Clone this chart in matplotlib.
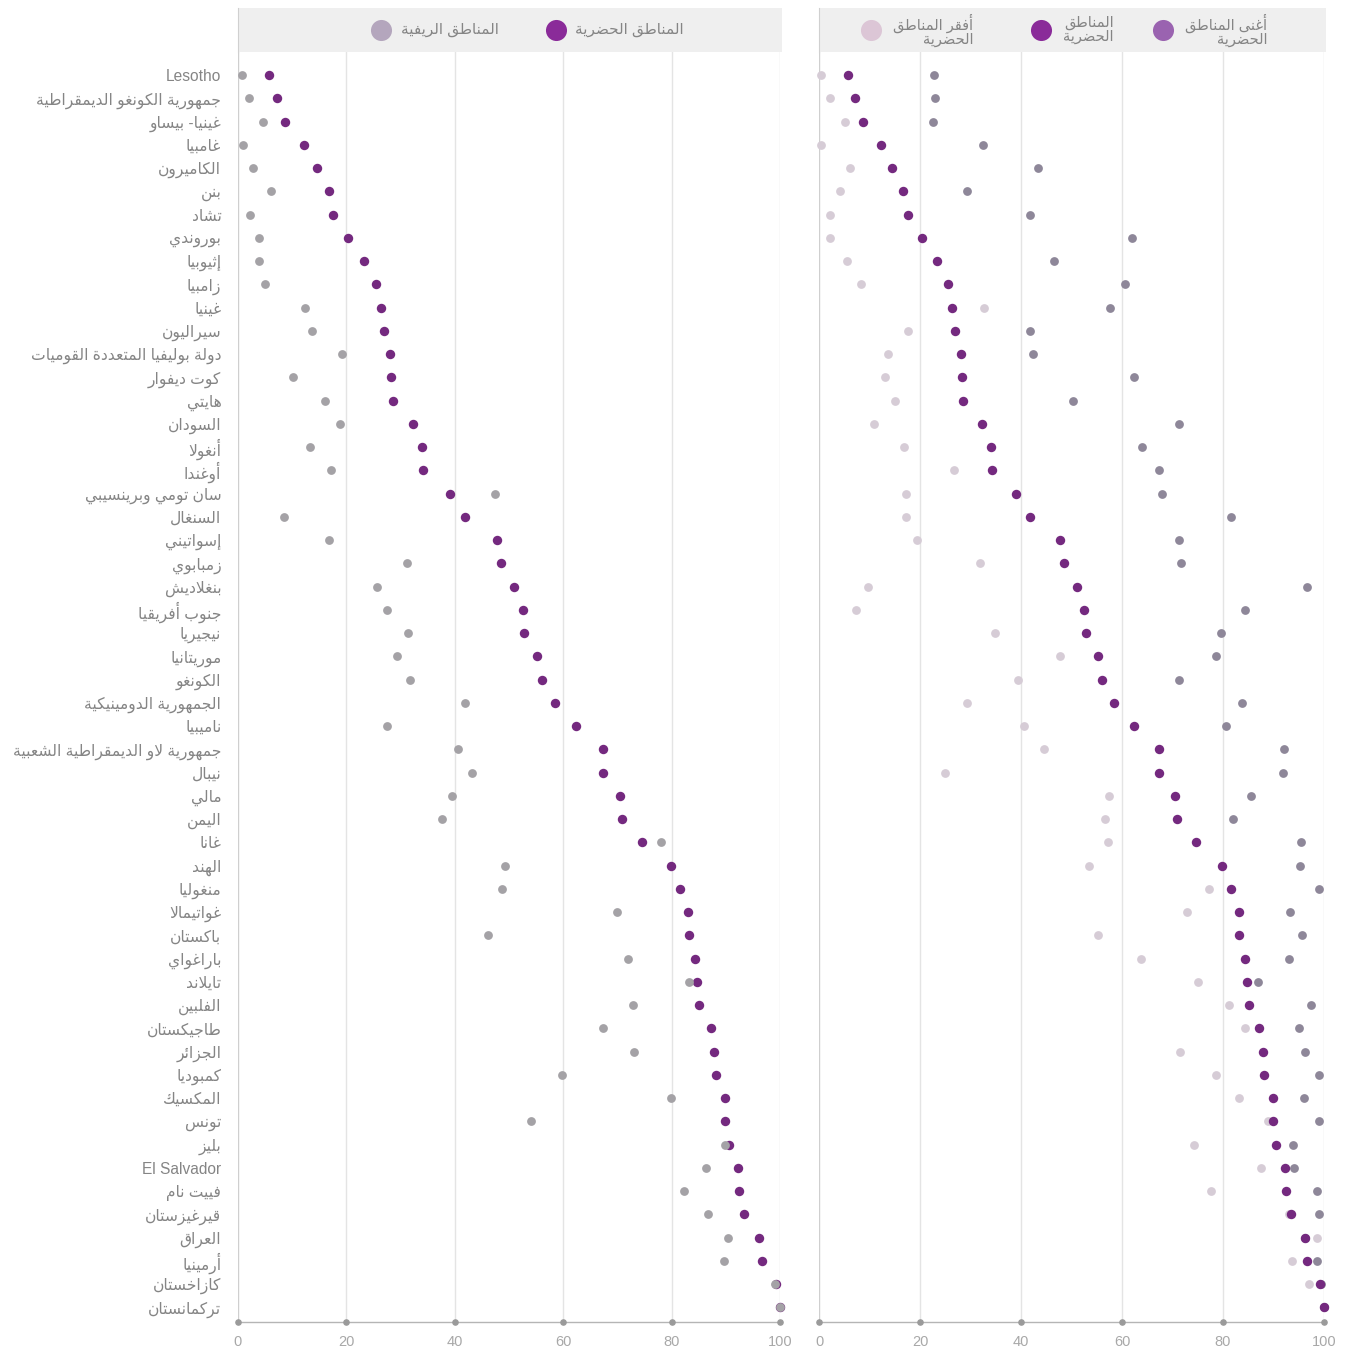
import numpy as np
import matplotlib
matplotlib.use("Agg")
import matplotlib.pyplot as plt
from matplotlib.transforms import blended_transform_factory

# ---------------- data ----------------
countries = [
    "Lesotho", "جمهورية الكونغو الديمقراطية", "غينيا- بيساو", "غامبيا", "الكاميرون",
    "بنن", "تشاد", "بوروندي", "إثيوبيا", "زامبيا", "غينيا", "سيراليون",
    "دولة بوليفيا المتعددة القوميات", "كوت ديفوار", "هايتي", "السودان", "أنغولا",
    "أوغندا", "سان تومي وبرينسيبي", "السنغال", "إسواتيني", "زمبابوي", "بنغلاديش",
    "جنوب أفريقيا", "نيجيريا", "موريتانيا", "الكونغو", "الجمهورية الدومينيكية",
    "ناميبيا", "جمهورية لاو الديمقراطية الشعبية", "نيبال", "مالي", "اليمن", "غانا",
    "الهند", "منغوليا", "غواتيمالا", "باكستان", "باراغواي", "تايلاند", "الفلبين",
    "طاجيكستان", "الجزائر", "كمبوديا", "المكسيك", "تونس", "بليز", "El Salvador",
    "فييت نام", "قيرغيزستان", "العراق", "أرمينيا", "كازاخستان", "تركمانستان",
]
urban = [5.8, 7.2, 8.7, 12.2, 14.5, 16.7, 17.6, 20.3, 23.3, 25.5, 26.3, 27.0,
         28.1, 28.3, 28.6, 32.2, 34.0, 34.2, 39.1, 41.8, 47.7, 48.6, 51.0, 52.5,
         52.8, 55.2, 56.1, 58.4, 62.4, 67.4, 67.4, 70.4, 70.9, 74.6, 79.8, 81.5,
         83.1, 83.2, 84.3, 84.7, 85.1, 87.2, 87.9, 88.2, 89.9, 89.9, 90.5, 92.3,
         92.5, 93.4, 96.2, 96.6, 99.3, 100.0]
rural = [0.7, 2.1, 4.6, 1.0, 2.7, 6.0, 2.2, 3.9, 3.9, 5.0, 12.4, 13.7,
         19.2, 10.1, 16.0, 18.8, 13.2, 17.1, 47.4, 8.5, 16.8, 31.2, 25.7, 27.4,
         31.3, 29.3, 31.8, 41.9, 27.4, 40.6, 43.1, 39.4, 37.6, 78.1, 49.3, 48.8,
         70.0, 46.1, 71.9, 83.2, 72.8, 67.3, 73.1, 59.7, 79.8, 54.0, 89.8, 86.3,
         82.3, 86.8, 90.4, 89.7, 99.0, 100.0]
poorest_urban = [0.3, 2.1, 5.2, 0.3, 6.1, 4.2, 2.2, 2.1, 5.5, 8.4, 32.6, 17.7,
                 13.6, 13.1, 15.1, 10.9, 16.9, 26.8, 17.3, 17.3, 19.4, 31.8, 9.7, 7.3,
                 34.9, 47.7, 39.5, 29.3, 40.5, 44.5, 25.0, 57.5, 56.7, 57.2, 53.5, 77.3,
                 72.8, 55.3, 63.7, 75.1, 81.2, 84.4, 71.5, 78.6, 83.1, 89.0, 74.2, 87.6,
                 77.7, 93.0, 98.7, 93.7, 97.0, 100.0]
richest_urban = [22.7, 22.9, 22.5, 32.4, 43.4, 29.3, 41.8, 62.0, 46.5, 60.6, 57.7, 41.8,
                 42.4, 62.4, 50.3, 71.2, 63.9, 67.4, 68.0, 81.5, 71.3, 71.7, 96.7, 84.3,
                 79.6, 78.7, 71.3, 83.7, 80.6, 92.0, 91.9, 85.5, 82.0, 95.5, 95.3, 99.1,
                 93.2, 95.6, 93.1, 86.9, 97.5, 95.1, 96.2, 99.0, 96.0, 99.0, 93.9, 94.0,
                 98.6, 99.0, 96.3, 98.6, 99.5, 100.0]
x_ticks = [0, 20, 40, 60, 80, 100]
left_legend = ["المناطق الريفية", "المناطق الحضرية"]
right_legend = [("أفقر المناطق", "الحضرية"), ("المناطق", "الحضرية"), ("أغنى المناطق", "الحضرية")]

# ---------------- Arabic shaping (presentation forms + visual order) ----------------
DUAL = {'ئ': 0xFE89, 'ب': 0xFE8F, 'ت': 0xFE95, 'ث': 0xFE99, 'ج': 0xFE9D, 'ح': 0xFEA1,
        'خ': 0xFEA5, 'س': 0xFEB1, 'ش': 0xFEB5, 'ص': 0xFEB9, 'ض': 0xFEBD, 'ط': 0xFEC1,
        'ظ': 0xFEC5, 'ع': 0xFEC9, 'غ': 0xFECD, 'ف': 0xFED1, 'ق': 0xFED5, 'ك': 0xFED9,
        'ل': 0xFEDD, 'م': 0xFEE1, 'ن': 0xFEE5, 'ه': 0xFEE9, 'ي': 0xFEF1}
RIGHT = {'آ': 0xFE81, 'أ': 0xFE83, 'ؤ': 0xFE85, 'إ': 0xFE87, 'ا': 0xFE8D, 'ة': 0xFE93,
         'د': 0xFEA9, 'ذ': 0xFEAB, 'ر': 0xFEAD, 'ز': 0xFEAF, 'و': 0xFEED, 'ى': 0xFEEF}
LAMALEF = {'آ': 0xFEF5, 'أ': 0xFEF7, 'إ': 0xFEF9, 'ا': 0xFEFB}


def shape(s):
    if not any('\u0600' <= c <= '\u06FF' for c in s):
        return s
    items = []
    i = 0
    while i < len(s):
        c = s[i]
        if c == 'ل' and i + 1 < len(s) and s[i + 1] in LAMALEF:
            items.append(('LA', s[i + 1]))
            i += 2
        else:
            items.append(('C', c))
            i += 1

    def jt(it):
        k, c = it
        if k == 'LA':
            return 'R'
        if c in DUAL:
            return 'D'
        if c in RIGHT:
            return 'R'
        return 'U'

    out = []
    n = len(items)
    for k, it in enumerate(items):
        t = jt(it)
        prev = jt(items[k - 1]) if k > 0 else 'U'
        nxt = jt(items[k + 1]) if k < n - 1 else 'U'
        jp = t != 'U' and prev == 'D'
        jn = t == 'D' and nxt in ('D', 'R')
        kind, c = it
        if kind == 'LA':
            out.append(chr(LAMALEF[c] + (1 if jp else 0)))
        elif t == 'D':
            idx = 3 if (jp and jn) else 2 if jn else 1 if jp else 0
            out.append(chr(DUAL[c] + idx))
        elif t == 'R':
            out.append(chr(RIGHT[c] + (1 if jp else 0)))
        else:
            out.append(c)
    return ''.join(reversed(out))


# ---------------- styling ----------------
plt.rcParams['font.family'] = ['Liberation Sans', 'DejaVu Sans']
C_URBAN = '#74297f'
C_RURAL = '#a4a2a6'
C_POOR = '#d6ccd6'
C_RICH = '#8e8799'
L_URBAN = '#8a2b99'
L_RURAL = '#b4a6bd'
L_POOR = '#dcc6d6'
L_RICH = '#9a63b0'
TXT = '#858585'
GRID = '#e4e4e4'

W, H = 1350, 1353
fig = plt.figure(figsize=(W / 100, H / 100), dpi=100)
fig.patch.set_facecolor('white')


def fx(px):
    return px / W


def fy(py):
    return 1 - py / H


top_px, bot_px = 52, 1322
row0_px, row_step = 75, 23.25
ylim_top = (top_px - row0_px) / row_step
ylim_bot = (bot_px - row0_px) / row_step

panels = [(238, 780), (819, 1324)]
axes = []
for (xl, xr) in panels:
    ax = fig.add_axes([fx(xl), fy(bot_px), fx(xr - xl), (bot_px - top_px) / H])
    ax.set_xlim(0, 100)
    ax.set_ylim(ylim_bot, ylim_top)
    for sp in ['top', 'right', 'left']:
        ax.spines[sp].set_visible(False)
    ax.spines['bottom'].set_color('#b5b5b5')
    ax.spines['bottom'].set_linewidth(1.0)
    for xv in x_ticks:
        ax.axvline(xv, color='#cfcfcf' if xv == 0 else GRID, lw=1.0, zorder=0)
    ax.set_xticks(x_ticks)
    ax.set_xticklabels([str(v) for v in x_ticks], color='#a8a8a8', fontsize=10.5)
    ax.tick_params(axis='x', length=0, pad=9)
    trans = blended_transform_factory(ax.transData, ax.transAxes)
    ax.scatter(x_ticks, [0] * len(x_ticks), s=14, color='#9a9a9a', transform=trans,
               clip_on=False, zorder=5)
    axes.append(ax)

y = np.arange(len(countries))
axL, axR = axes

# left panel
axL.scatter(urban, y, s=46, color=C_URBAN, zorder=3, clip_on=False, linewidths=0)
axL.scatter(rural, y, s=40, color=C_RURAL, zorder=4, clip_on=False, linewidths=0)
axL.set_yticks(y)
axL.set_yticklabels([shape(c) for c in countries], color=TXT, fontsize=11.2)
axL.tick_params(axis='y', length=0, pad=12)

# right panel
axR.scatter(poorest_urban, y, s=40, color=C_POOR, zorder=2, clip_on=False, linewidths=0)
axR.scatter(richest_urban, y, s=40, color=C_RICH, zorder=3, clip_on=False, linewidths=0)
axR.scatter(urban, y, s=46, color=C_URBAN, zorder=4, clip_on=False, linewidths=0)
axR.set_yticks([])

# ---------------- header bands with legends ----------------
hdr_top, hdr_bot = 8, 52
heads = []
for (xl, xr) in panels:
    hx = fig.add_axes([fx(xl), fy(hdr_bot), fx(xr - xl + 2), (hdr_bot - hdr_top) / H])
    hx.set_facecolor('#efefef')
    hx.set_xlim(xl, xr + 2)
    hx.set_ylim(hdr_bot, hdr_top)
    for sp in hx.spines.values():
        sp.set_visible(False)
    hx.spines['left'].set_visible(True)
    hx.spines['left'].set_color('#d0d0d0')
    hx.set_xticks([])
    hx.set_yticks([])
    heads.append(hx)

hL, hR = heads
# left legend: rural, urban
hL.scatter([381], [30], s=230, color=L_RURAL, linewidths=0)
hL.text(401, 30, shape(left_legend[0]), ha='left', va='center', fontsize=11, color=TXT)
hL.scatter([556], [30], s=230, color=L_URBAN, linewidths=0)
hL.text(575, 30, shape(left_legend[1]), ha='left', va='center', fontsize=11, color=TXT)

# right legend: poorest, urban, richest
for cx, col, lines in [(871, L_POOR, right_legend[0]), (1041, L_URBAN, right_legend[1]),
                       (1163, L_RICH, right_legend[2])]:
    hR.scatter([cx], [30], s=230, color=col, linewidths=0)
    hR.text(cx + 22, 30, "\n".join(shape(l) for l in lines), ha='left', va='center',
            fontsize=10.5, color=TXT, linespacing=0.95, multialignment='right')

fig.savefig('out.png', dpi=100, facecolor='white')
